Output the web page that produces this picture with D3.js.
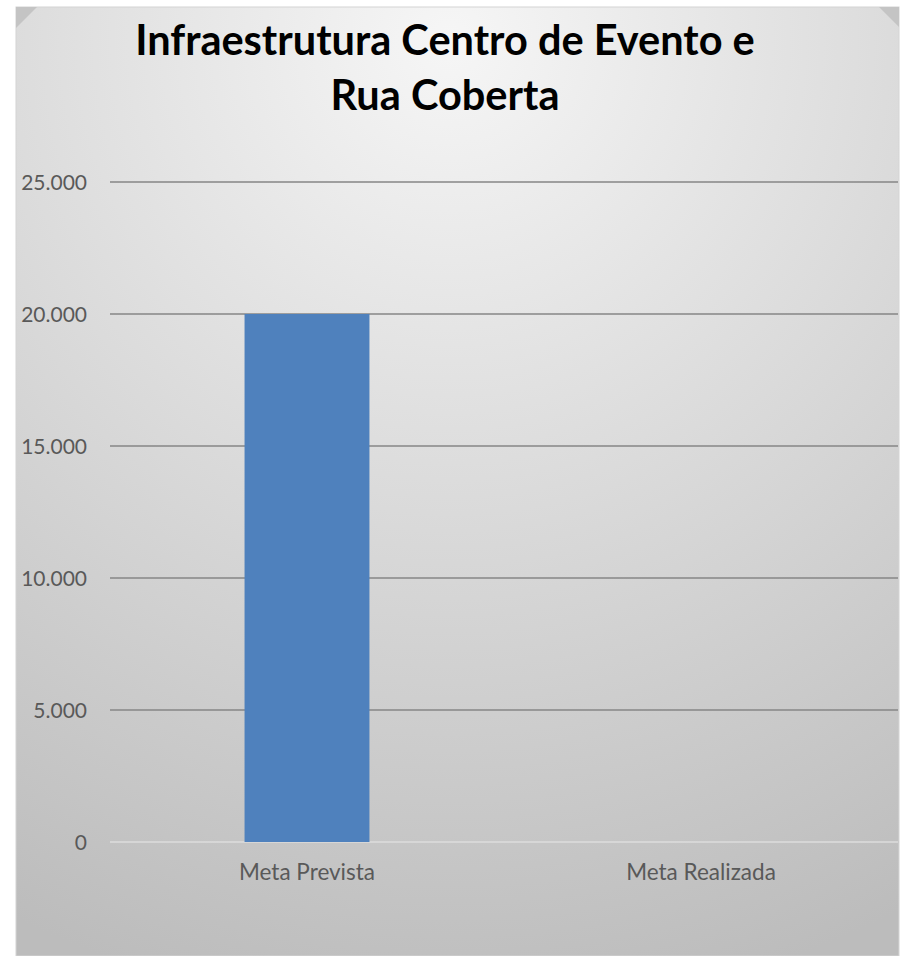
<!DOCTYPE html>
<html>
<head>
<meta charset="utf-8">
<script src="https://cdn.jsdelivr.net/npm/d3@7"></script>
<style>
  html, body { margin: 0; padding: 0; background: #ffffff; }
  svg { display: block; }
</style>
</head>
<body>
<svg id="chart" width="903" height="956"></svg>
<script>
const categories = ["Meta Prevista", "Meta Realizada"];
const values = [20000, 0];
const tickValues = [0, 5000, 10000, 15000, 20000, 25000];
const tickLabels = ["0", "5.000", "10.000", "15.000", "20.000", "25.000"];
const titleLines = ["Infraestrutura Centro de Evento e", "Rua Coberta"];

const svg = d3.select("#chart");
const panel = { x: 16, y: 7, w: 883, h: 949 };
const plot = { left: 110, right: 898, top: 182, bottom: 842 };

const defs = svg.append("defs");
const grad = defs.append("radialGradient")
  .attr("id", "bg").attr("gradientUnits", "userSpaceOnUse")
  .attr("cx", 450).attr("cy", 40).attr("r", 980)
  .attr("fx", 450).attr("fy", 40);
grad.append("stop").attr("offset", "0%").attr("stop-color", "#f6f6f6");
grad.append("stop").attr("offset", "100%").attr("stop-color", "#bcbcbc");

svg.append("rect").attr("x", panel.x).attr("y", panel.y)
  .attr("width", panel.w).attr("height", panel.h)
  .attr("fill", "url(#bg)").attr("stroke", "#d4d4d4").attr("stroke-width", 1);

// corner folds
svg.append("path")
  .attr("d", `M${panel.x},${panel.y} L${panel.x + 21},${panel.y} L${panel.x},${panel.y + 21} Z`)
  .attr("fill", "#c4c4c4");
svg.append("path")
  .attr("d", `M${panel.x + panel.w},${panel.y} L${panel.x + panel.w - 20},${panel.y} L${panel.x + panel.w},${panel.y + 20} Z`)
  .attr("fill", "#c4c4c4");

const x = d3.scaleBand().domain(categories).range([plot.left, plot.right])
  .paddingInner(0.683).paddingOuter(0.3415);
const y = d3.scaleLinear().domain([0, 25000]).range([plot.bottom, plot.top]);

// gridlines
svg.append("g").selectAll("line").data(tickValues).join("line")
  .attr("x1", plot.left).attr("x2", plot.right)
  .attr("y1", d => y(d)).attr("y2", d => y(d))
  .attr("stroke", d => d === 0 ? "#dcdcdc" : "#868686")
  .attr("stroke-width", 1.5);

// y tick labels
const yAxis = d3.axisLeft(y).tickValues(tickValues)
  .tickFormat((d, i) => tickLabels[i]).tickSize(0).tickPadding(0);
const ga = svg.append("g").attr("transform", `translate(87,0)`).call(yAxis);
ga.select(".domain").remove();
ga.selectAll("text").attr("font-family", "Lato, 'Open Sans', sans-serif")
  .attr("font-size", 21).attr("fill", "#595959").attr("dy", "0.35em");

// bars
svg.append("g").selectAll("rect").data(values).join("rect")
  .attr("x", (d, i) => x(categories[i]))
  .attr("width", x.bandwidth())
  .attr("y", d => y(d))
  .attr("height", d => y(0) - y(d))
  .attr("fill", "#4f81bd");

// x labels
const xAxis = d3.axisBottom(x).tickSize(0).tickPadding(0);
const gx = svg.append("g").attr("transform", `translate(0,${plot.bottom})`).call(xAxis);
gx.select(".domain").remove();
gx.selectAll("text").attr("font-family", "Lato, 'Open Sans', sans-serif")
  .attr("font-size", 22.5).attr("fill", "#595959").attr("dy", 0).attr("y", 38);

// title
svg.append("g").selectAll("text").data(titleLines).join("text")
  .attr("x", 445).attr("y", (d, i) => 55 + i * 55)
  .attr("text-anchor", "middle")
  .attr("font-family", "Lato, 'Open Sans', sans-serif")
  .attr("font-weight", "bold").attr("font-size", 41.5).attr("fill", "#000")
  .text(d => d);
</script>
</body>
</html>
